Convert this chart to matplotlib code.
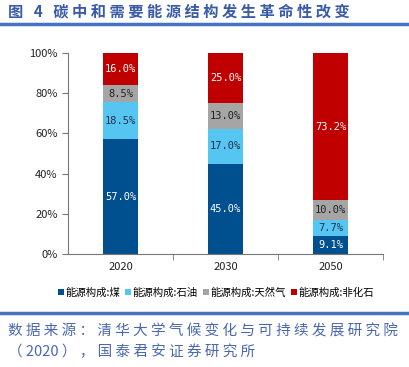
import matplotlib.pyplot as plt
import numpy as np

plt.rcParams['font.family'] = ['Noto Sans CJK SC', 'DejaVu Sans']

years = ["2020", "2030", "2050"]
coal = [57.0, 45.0, 9.1]
oil = [18.5, 17.0, 7.7]
gas = [8.5, 13.0, 10.0]
nonfossil = [16.0, 25.0, 73.2]
series_names = ["能源构成:煤", "能源构成:石油", "能源构成:天然气", "能源构成:非化石"]
colors = ["#00508F", "#55C6F2", "#A5A5A5", "#C00000"]
text_colors = ["white", "#1F2F4F", "#222222", "white"]

title = "图 4 碳中和需要能源结构发生革命性改变"
source1 = "数据来源：清华大学气候变化与可持续发展研究院"
source2 = "（2020），国泰君安证券研究所"


def spaced(s):
    # wide character spacing like the original report style (digits kept tight)
    out = ""
    for i, ch in enumerate(s):
        out += ch
        if i + 1 < len(s) and not (ch.isdigit() and s[i + 1].isdigit()):
            out += " "
    return out


W, H = 409, 367
fig = plt.figure(figsize=(W / 100, H / 100), dpi=100)

fig.text(8 / W, 1 - 11 / H, spaced(title), fontsize=11,
         color="#3A5BA8", fontweight="bold", va="center", ha="left")
fig.add_artist(plt.Line2D([0, 1], [1 - 24 / H, 1 - 24 / H], color="#4472C4", lw=2.5))

ax = fig.add_axes([68 / W, 1 - 254 / H, (383 - 68) / W, (254 - 53) / H])
x = np.arange(len(years))
bottom = np.zeros(len(years))
for vals, name, c, tc in zip([coal, oil, gas, nonfossil], series_names, colors, text_colors):
    ax.bar(x, vals, width=0.33, bottom=bottom, color=c, label=name)
    for xi, v, b in zip(x, vals, bottom):
        ax.text(xi, b + v / 2, f"{v:.1f}%", ha="center", va="center",
                fontsize=7.5, color=tc, family="DejaVu Sans Mono")
    bottom += np.array(vals)

ax.set_xlim(-0.5, 2.5)
ax.set_ylim(0, 100)
ax.set_yticks(range(0, 101, 20))
ax.set_yticklabels([f"{v}%" for v in range(0, 101, 20)])
ax.set_xticks(x)
ax.set_xticklabels(years)
ax.set_xticks([0.5, 1.5, 2.5], minor=True)
ax.tick_params(axis="x", which="major", length=0, pad=6)
ax.tick_params(axis="x", which="minor", length=4, color="#777777")
ax.tick_params(axis="y", length=4, color="#777777")
ax.tick_params(labelsize=8, labelcolor="#222222")
for s in ["top", "right"]:
    ax.spines[s].set_visible(False)
for s in ["left", "bottom"]:
    ax.spines[s].set_color("#777777")

ax.legend(loc="center", bbox_to_anchor=(0.47, -0.19), ncol=4, frameon=False,
          fontsize=7.5, handlelength=0.55, handleheight=0.55, handletextpad=0.15,
          columnspacing=0.5)

fig.add_artist(plt.Line2D([0, 1], [1 - 313 / H, 1 - 313 / H], color="#4472C4", lw=2.5))
fig.text(8 / W, 1 - 331 / H, spaced(source1), fontsize=10.5,
         color="#4A68B0", va="center", ha="left")
fig.text(8 / W, 1 - 352 / H, spaced(source2), fontsize=10.5,
         color="#4A68B0", va="center", ha="left")

fig.savefig("out.png", dpi=100)
